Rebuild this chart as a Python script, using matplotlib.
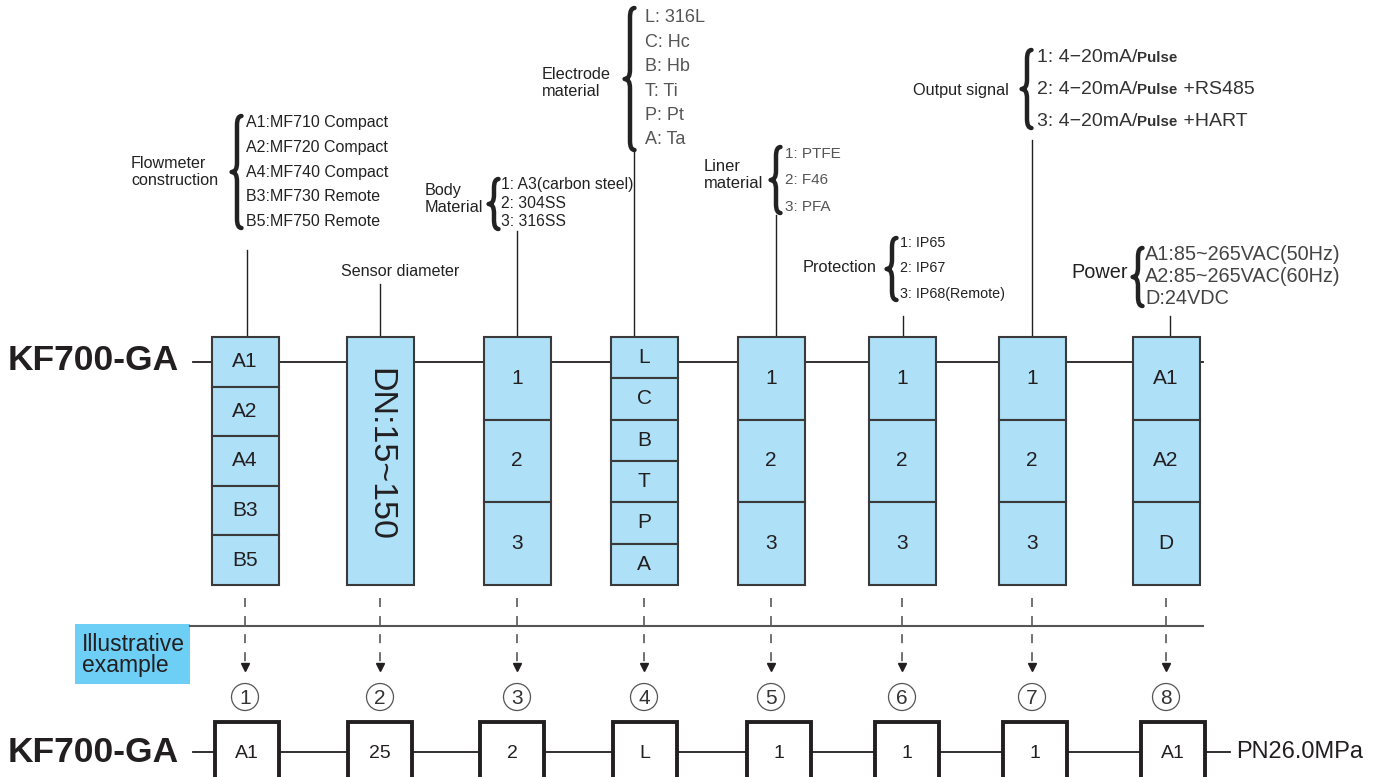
#!/usr/bin/env python
# -*- coding: utf-8 -*-
"""Model code chart for the KF700-GA electromagnetic flowmeter."""
import matplotlib
matplotlib.use('Agg')
import matplotlib.pyplot as plt
from matplotlib.path import Path
from matplotlib.patches import PathPatch, Rectangle, Circle

plt.rcParams['font.family'] = ['Liberation Sans', 'DejaVu Sans']

# ---- data ------------------------------------------------------------------
model = "KF700-GA"
pressure = "PN26.0MPa"

titles = ["Flowmeter\nconstruction", "Sensor diameter", "Body\nMaterial",
          "Electrode\nmaterial", "Liner\nmaterial", "Protection",
          "Output signal", "Power"]

codes = [["A1", "A2", "A4", "B3", "B5"],
         ["DN:15~150"],
         ["1", "2", "3"],
         ["L", "C", "B", "T", "P", "A"],
         ["1", "2", "3"],
         ["1", "2", "3"],
         ["1", "2", "3"],
         ["A1", "A2", "D"]]

options = [["A1:MF710 Compact", "A2:MF720 Compact", "A4:MF740 Compact",
            "B3:MF730 Remote", "B5:MF750 Remote"],
           [],
           ["1: A3(carbon steel)", "2: 304SS", "3: 316SS"],
           ["L: 316L", "C: Hc", "B: Hb", "T: Ti", "P: Pt", "A: Ta"],
           ["1: PTFE", "2: F46", "3: PFA"],
           ["1: IP65", "2: IP67", "3: IP68(Remote)"],
           ["1: 4\u221220mA/Pulse", "2: 4\u221220mA/Pulse +RS485",
            "3: 4\u221220mA/Pulse +HART"],
           ["A1:85~265VAC(50Hz)", "A2:85~265VAC(60Hz)", "D:24VDC"]]

example = ["A1", "25", "2", "L", "1", "1", "1", "A1"]
step_no = ["1", "2", "3", "4", "5", "6", "7", "8"]

# ---- layout (pixels) -------------------------------------------------------
col_x = [245, 380, 517, 644, 771, 902, 1032, 1166]
ex_x = [247, 380, 512, 645, 779, 907, 1035, 1173]
box_w, box_top, box_bot = 67, 337, 585
# label_x, label_y, label_fs, brace_x, brace_y0, brace_y1, opt_x, opt_y0, opt_dy,
# opt_fs, colour, lead_x, lead_top
ann = [(218, 172, 11.6, 237, 116, 228, 246, 123, 24.5, 11.5, '#222222', 247, 250),
       (400, 272, 11.6, None, 0, 0, 0, 0, 0, 0, '#222222', 380, 284),
       (483, 199, 11.7, 494, 179, 229, 501, 185, 18.5, 11.3, '#222222', 517, 231),
       (611, 83, 11.7, 630, 8, 150, 645, 18, 24.4, 13, '#555555', 634, 152),
       (763, 175, 11.9, 776, 147, 213, 785, 154, 26.5, 11, '#555555', 776, 215),
       (877, 268, 11.8, 892, 238, 300, 900, 243, 25.5, 10.3, '#222222', 903, 316),
       (1009, 90, 11.7, 1027, 50, 128, 1037, 57, 32, 14, '#333333', 1032, 140),
       (1128, 273, 14.3, 1138, 248, 306, 1145, 255, 21.5, 14.3, '#444444', 1170, 316)]

box_fill = '#aee0f8'
edge = '#3a3a3a'


def brace(ax, x, y0, y1, w=9, color='#222222'):
    ym = (y0 + y1) / 2
    verts = [(x + w * 0.5, y0), (x, y0), (x, y0 + w),
             (x, ym - w), (x, ym), (x - w * 0.6, ym),
             (x, ym), (x, ym + w),
             (x, y1 - w), (x, y1), (x + w * 0.5, y1)]
    cmds = [Path.MOVETO, Path.CURVE3, Path.CURVE3,
            Path.LINETO, Path.CURVE3, Path.CURVE3,
            Path.CURVE3, Path.CURVE3,
            Path.LINETO, Path.CURVE3, Path.CURVE3]
    ax.add_patch(PathPatch(Path(verts, cmds), fill=False, lw=3.2,
                           color=color, capstyle='round', joinstyle='round'))


fig = plt.figure(figsize=(13.76, 7.77), dpi=100)
ax = fig.add_axes([0, 0, 1, 1])
ax.set_xlim(0, 1376)
ax.set_ylim(777, 0)
ax.axis('off')

# ---- top row: model and option boxes --------------------------------------
ax.text(8, 360, model, fontsize=25.5, fontweight='bold', va='center', ha='left', color='#231f20')
ax.plot([193, 1203], [362, 362], color='#231f20', lw=1.3, zorder=1)

for i, (cx, cs) in enumerate(zip(col_x, codes)):
    n = len(cs)
    h = (box_bot - box_top) / n
    for j, c in enumerate(cs):
        y = box_top + j * h
        ax.add_patch(Rectangle((cx - box_w / 2, y), box_w, h, facecolor=box_fill,
                               edgecolor=edge, lw=1.5, zorder=2))
        if n == 1:
            ax.text(cx, y + h / 2 - 7, c, fontsize=24.5, rotation=-90, ha='center',
                    va='center', color='#231f20', zorder=3)
        else:
            ax.text(cx, y + h / 2, c, fontsize=15, ha='center', va='center',
                    color='#231f20', zorder=3)

# ---- annotations above the boxes ------------------------------------------
for i, a in enumerate(ann):
    lx, ly, lfs, bx, by0, by1, ox, oy0, ody, fs, col, lead_x, lead_top = a
    ax.plot([lead_x, lead_x], [lead_top, box_top], color='#231f20', lw=1.0, zorder=1)
    if bx is None:
        ax.text(lx, ly, titles[i], fontsize=lfs, ha='center', va='center', color='#222222')
        continue
    ax.text(lx, ly, titles[i], fontsize=lfs, ha='right', va='center',
            multialignment='left', color='#222222', linespacing=1.15)
    brace(ax, bx, by0, by1)
    for k, opt in enumerate(options[i]):
        y = oy0 + k * ody
        if 'Pulse' in opt:
            pre, post = opt.split('Pulse')
            t1 = ax.text(ox, y, pre, fontsize=fs, ha='left', va='center', color=col)
            t2 = ax.annotate('Pulse', xy=(1, 0), xycoords=t1, xytext=(0, 0),
                             textcoords='offset points', fontsize=fs * 0.78,
                             fontweight='bold', ha='left', va='bottom', color=col)
            ax.annotate(post, xy=(1, 0), xycoords=t2, xytext=(0, 0),
                        textcoords='offset points', fontsize=fs, ha='left',
                        va='bottom', color=col)
        else:
            ax.text(ox, y, opt, fontsize=fs, ha='left', va='center', color=col)

# ---- illustrative example -------------------------------------------------
ax.plot([190, 1203], [626, 626], color='#555555', lw=1.5)
ax.add_patch(Rectangle((75, 624), 115, 60, facecolor='#6dcff6', edgecolor='none'))
ax.text(82, 655, "Illustrative\nexample", fontsize=16.5, ha='left', va='center',
        color='#231f20', linespacing=0.92)

for cx, num in zip(col_x, step_no):
    ax.plot([cx, cx], [598, 662], color='#666666', lw=1.3, ls=(0, (5, 5)))
    ax.plot(cx, 667, marker='v', ms=5.5, color='#231f20')
    ax.add_patch(Circle((cx, 697), 13.5, fill=False, edgecolor='#555555', lw=0.9))
    ax.text(cx, 698, num, fontsize=15, ha='center', va='center', color='#333333')

ax.text(8, 752, model, fontsize=25.5, fontweight='bold', va='center', ha='left', color='#231f20')
ax.plot([193, 1230], [752, 752], color='#231f20', lw=1.3, zorder=1)
for ex, code in zip(ex_x, example):
    ax.add_patch(Rectangle((ex - 32, 722), 64, 70, facecolor='white',
                           edgecolor='#231f20', lw=2.8, zorder=2))
    ax.text(ex, 753, code, fontsize=14, ha='center', va='center', color='#231f20', zorder=3)
ax.text(1236, 752, pressure, fontsize=17, ha='left', va='center', color='#231f20')

fig.savefig('out.png', dpi=100)
